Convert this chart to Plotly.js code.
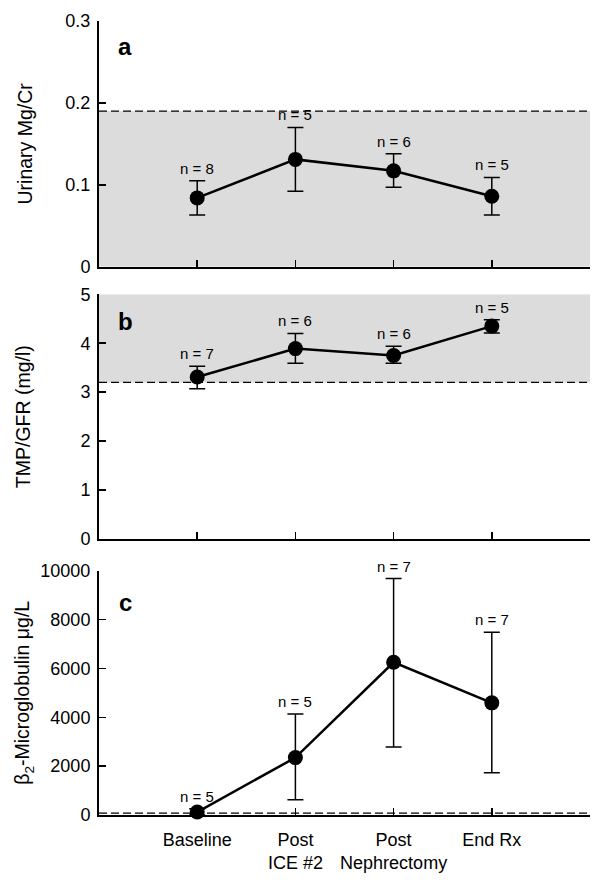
<!DOCTYPE html>
<html>
<head>
<meta charset="utf-8">
<script src="https://cdn.plot.ly/plotly-3.0.1.min.js"></script>
<style>html,body{margin:0;padding:0;background:#fff;}#chart{width:601px;height:881px;}</style>
</head>
<body>
<div id="chart"></div>
<script>
// ---- data ----
const categories = ['Baseline', 'Post<br>ICE #2', 'Post<br>Nephrectomy', 'End Rx'];

const mgcrMean  = [0.084, 0.131, 0.117, 0.086];
const mgcrUpper = [0.105, 0.170, 0.138, 0.109];
const mgcrLower = [0.063, 0.092, 0.097, 0.063];
const mgcrN     = [8, 5, 6, 5];
const mgcrNormal = [0, 0.19];

const tmpMean  = [3.31, 3.89, 3.75, 4.35];
const tmpUpper = [3.53, 4.20, 3.94, 4.48];
const tmpLower = [3.07, 3.59, 3.59, 4.21];
const tmpN     = [7, 6, 6, 5];
const tmpNormal = [3.2, 5];

const b2mMean  = [120, 2350, 6250, 4590];
const b2mUpper = [260, 4130, 9680, 7480];
const b2mLower = [0, 625, 2780, 1725];
const b2mN     = [5, 5, 7, 7];
const b2mNormal = [0, 80];

const yTitles = ['Urinary Mg/Cr', 'TMP/GFR (mg/l)', 'β<sub>2</sub>-Microglobulin μg/L'];
const panelLetters = ['a', 'b', 'c'];

// ---- build ----
const xPos = categories.map((_, i) => i + 1);
const xEnd = categories.length + 1;
const FONT = 'Liberation Sans, Arial, sans-serif';

function series(mean, upper, lower, xa, ya) {
  return {
    type: 'scatter', mode: 'lines+markers',
    x: xPos, y: mean, xaxis: xa, yaxis: ya,
    line: {color: '#000', width: 2.5},
    marker: {color: '#000', size: 15},
    cliponaxis: false,
    error_y: {
      type: 'data', symmetric: false,
      array: upper.map((u, i) => u - mean[i]),
      arrayminus: lower.map((l, i) => mean[i] - l),
      color: '#000', thickness: 1.5, width: 8
    },
    hoverinfo: 'skip'
  };
}

const traces = [
  series(mgcrMean, mgcrUpper, mgcrLower, 'x', 'y'),
  series(tmpMean, tmpUpper, tmpLower, 'x2', 'y2'),
  series(b2mMean, b2mUpper, b2mLower, 'x3', 'y3')
];

const annotations = [];
function nLabels(ns, upper, xref, yref) {
  ns.forEach((n, i) => annotations.push({
    x: xPos[i], y: upper[i], xref: xref, yref: yref,
    text: 'n = ' + n, showarrow: false, yanchor: 'bottom', yshift: 2,
    font: {size: 15, color: '#000', family: FONT}
  }));
}
nLabels(mgcrN, mgcrUpper, 'x', 'y');
nLabels(tmpN, tmpUpper, 'x2', 'y2');
nLabels(b2mN, b2mUpper, 'x3', 'y3');

const letterPos = [[0.053, 0.895], [0.053, 0.89], [0.053, 0.868]];
panelLetters.forEach((l, i) => annotations.push({
  x: letterPos[i][0], y: letterPos[i][1],
  xref: (i === 0 ? 'x' : 'x' + (i + 1)) + ' domain',
  yref: (i === 0 ? 'y' : 'y' + (i + 1)) + ' domain',
  text: '<b>' + l + '</b>', showarrow: false,
  xanchor: 'center', yanchor: 'middle',
  font: {size: 24, color: '#000', family: FONT}
}));

const shapes = [];
function normalBand(range, xref, yref, shade) {
  if (shade) shapes.push({type: 'rect', xref: xref, yref: yref, x0: 0, x1: xEnd,
    y0: range[0], y1: range[1], fillcolor: '#dcdcdc', line: {width: 0}, layer: 'below'});
  const yl = range[0] === 0 ? range[1] : range[0];
  shapes.push({type: 'line', xref: xref, yref: yref, x0: 0, x1: xEnd, y0: yl, y1: yl,
    line: {color: '#000', width: 1.3, dash: '8px,4px'}, layer: 'above'});
}
normalBand(mgcrNormal, 'x', 'y', true);
normalBand(tmpNormal, 'x2', 'y2', true);
normalBand(b2mNormal, 'x3', 'y3', false);

function xaxis(anchor, showLabels) {
  return {
    anchor: anchor, domain: [0, 1], range: [0, xEnd], fixedrange: true,
    tickmode: 'array', tickvals: xPos, ticktext: categories,
    showticklabels: showLabels, ticks: 'inside', ticklen: 7, tickwidth: 1.5, tickcolor: '#000',
    ticklabelstandoff: 7,
    minor: {tickmode: 'array', tickvals: [xEnd], ticks: 'inside', ticklen: 7,
            tickwidth: 1.5, tickcolor: '#000', showgrid: false},
    showline: true, linecolor: '#000', linewidth: 2, showgrid: false, zeroline: false,
    tickfont: {size: 18, color: '#000', family: FONT}
  };
}
function yaxis(anchor, domain, range, dtick, title, standoff, fmt) {
  return {
    anchor: anchor, domain: domain, range: range, dtick: dtick, tick0: 0, fixedrange: true,
    ticks: 'inside', ticklen: 7, tickwidth: 1.5, tickcolor: '#000',
    showline: true, linecolor: '#000', linewidth: 2, showgrid: false, zeroline: false,
    tickformat: fmt || '', ticklabelstandoff: 3,
    tickfont: {size: 18, color: '#000', family: FONT},
    title: {text: title, standoff: standoff, font: {size: 19.5, color: '#000', family: FONT}}
  };
}

const layout = {
  width: 601, height: 881,
  margin: {l: 99, r: 11, t: 21, b: 66},
  paper_bgcolor: '#fff', plot_bgcolor: 'rgba(0,0,0,0)',
  showlegend: false,
  font: {family: FONT, color: '#000'},
  xaxis: xaxis('y', false),
  xaxis2: xaxis('y2', false),
  xaxis3: xaxis('y3', true),
  yaxis: yaxis('x', [0.6906, 1], [0, 0.3], 0.1, yTitles[0], 28),
  yaxis2: yaxis('x2', [0.3476, 0.6558], [0, 5], 1, yTitles[1], 45),
  yaxis3: yaxis('x3', [0, 0.3077], [0, 10000], 2000, yTitles[2], 5, 'd'),
  shapes: shapes,
  annotations: annotations
};

Plotly.newPlot('chart', traces, layout, {staticPlot: true, displayModeBar: false});
</script>
</body>
</html>
